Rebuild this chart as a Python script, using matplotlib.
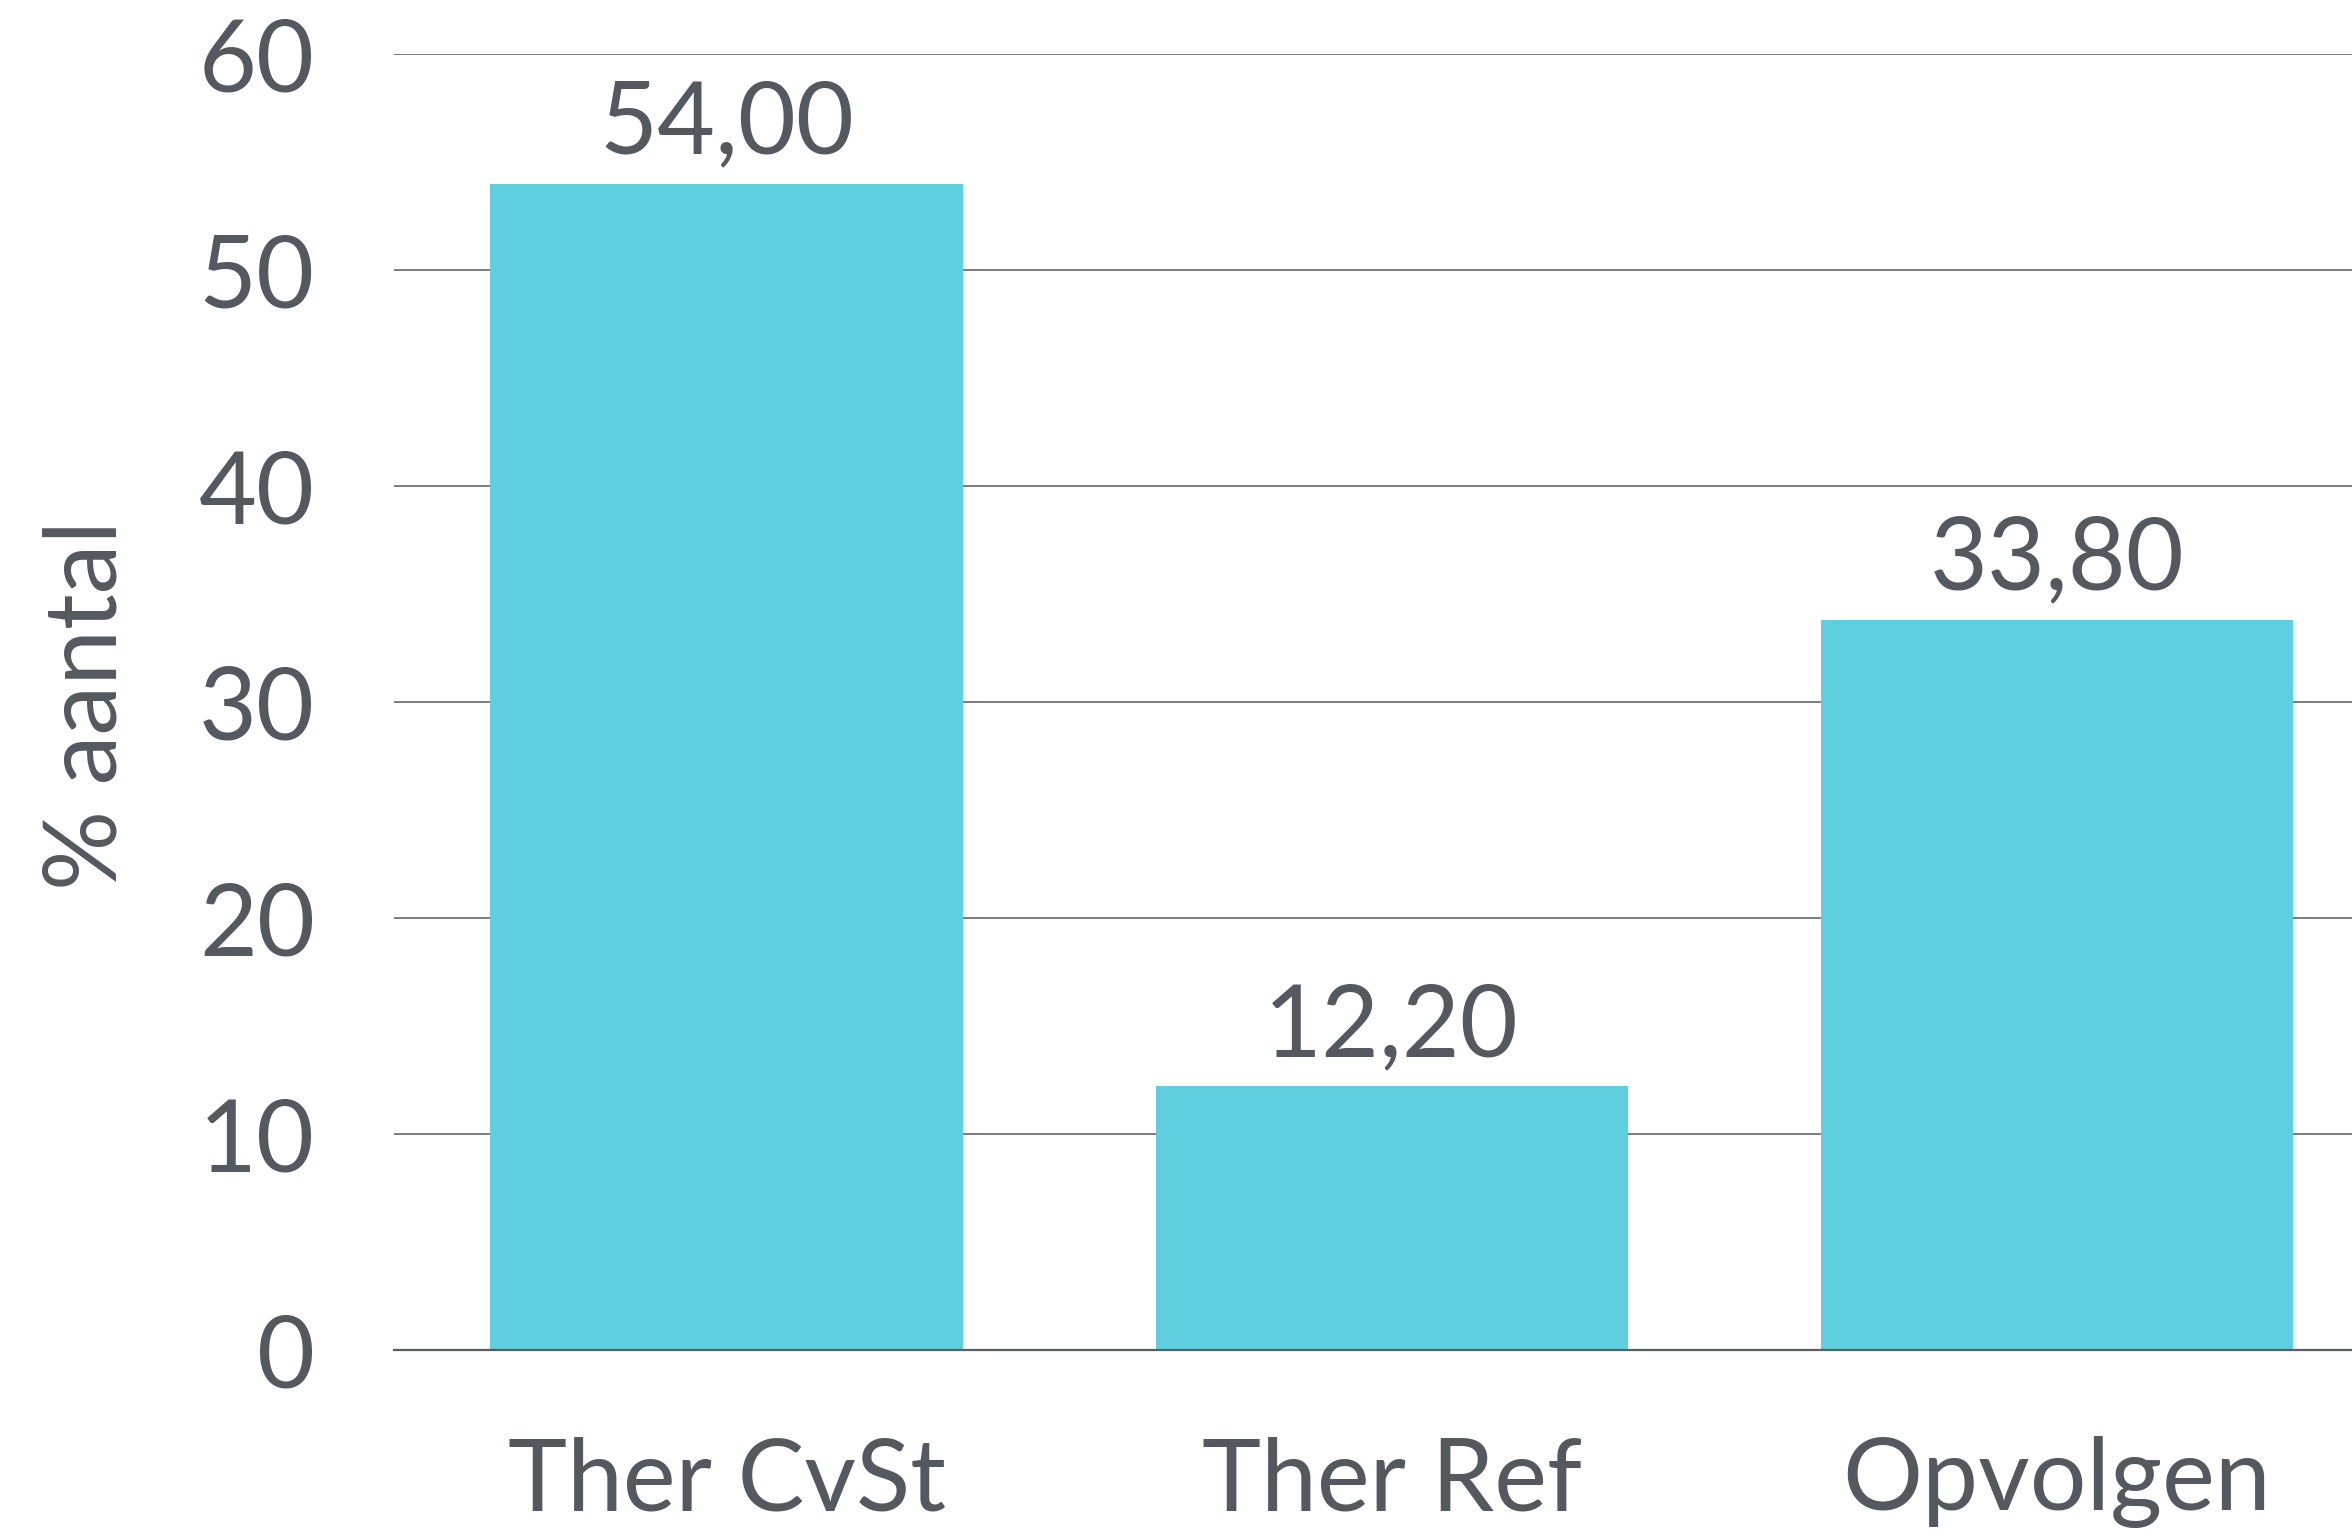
import matplotlib
matplotlib.use("Agg")
import matplotlib.pyplot as plt

categories = ["Ther CvSt", "Ther Ref", "Opvolgen"]
values = [54.00, 12.20, 33.80]
yticks = [0, 10, 20, 30, 40, 50, 60]
ylabel = "% aantal"

bar_color = "#5FCFE0"
text_color = "#545960"
grid_color = "#6E7176"

plt.rcParams['font.family'] = ['Lato', 'DejaVu Sans']

fig = plt.figure(figsize=(23.52, 15.40), dpi=100)
ax = fig.add_axes([394/2352, 1 - 1350/1540, 1 - 394/2352, (1350 - 54)/1540])

x = range(len(categories))
bars = ax.bar(x, values, width=0.71, color=bar_color, zorder=3)

ax.set_ylim(0, 60)
ax.set_xlim(-0.5, 2.444)
ax.set_yticks(yticks)
ax.set_yticklabels([str(v) for v in yticks])
ax.set_xticks(list(x))
ax.set_xticklabels(categories)

ax.yaxis.grid(True, color=grid_color, linewidth=1.3, zorder=0)
ax.xaxis.grid(False)
for s in ["top", "right", "left"]:
    ax.spines[s].set_visible(False)
ax.spines["bottom"].set_color("#5A5E63")
ax.spines["bottom"].set_linewidth(1.6)
ax.spines["bottom"].set_zorder(4)

ax.tick_params(axis="y", length=0, pad=57, labelsize=72, labelcolor=text_color)
ax.tick_params(axis="x", length=0, pad=62, labelsize=72, labelcolor=text_color)

for xi, v in zip(x, values):
    ax.annotate(f"{v:.2f}".replace(".", ","), (xi, v), xytext=(0, 22),
                textcoords="offset points", ha="center", va="baseline",
                fontsize=72, color=text_color)

fig.text(88/2352, 1 - 705/1540, ylabel, rotation=90, ha="center", va="center",
         fontsize=72, color=text_color)

fig.savefig("out.png", dpi=100, facecolor="white")
